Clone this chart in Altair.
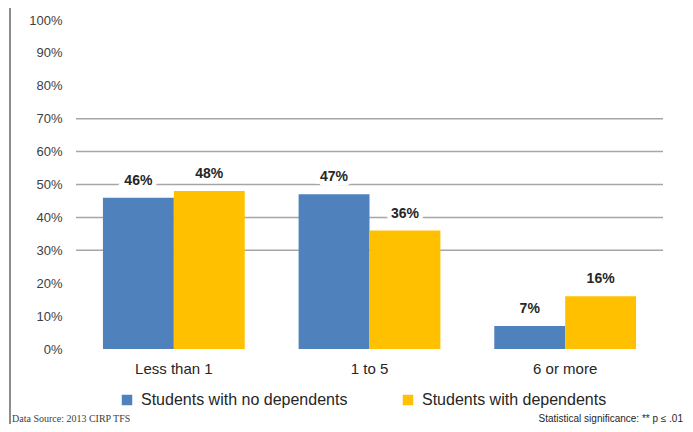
import altair as alt
import pandas as pd

categories = ["Less than 1", "1 to 5", "6 or more"]
series = ["Students with no dependents", "Students with dependents"]
no_dependents = [46, 47, 7]
with_dependents = [48, 36, 16]
y_ticks = [0, 10, 20, 30, 40, 50, 60, 70, 80, 90, 100]
grid_values = [30, 40, 50, 60, 70]
colors = ["#4F81BD", "#FFC000"]

rows = []
for c, a, b in zip(categories, no_dependents, with_dependents):
    rows.append({"cat": c, "series": series[0], "value": a, "label": f"{a}%"})
    rows.append({"cat": c, "series": series[1], "value": b, "label": f"{b}%"})
df = pd.DataFrame(rows)
grid_df = pd.DataFrame({"g": grid_values})
one = pd.DataFrame({"k": [0]})

FONT = "Liberation Sans"

yscale = alt.Scale(domain=[0, 100], nice=False)
yaxis = alt.Axis(values=y_ticks, grid=False, domain=False, ticks=False,
                 labelOverlap=False, tickCount=11,
                 labelPadding=14, labelFontSize=13, labelColor="#404040",
                 labelFont=FONT, labelExpr="datum.value + '%'")

xenc = alt.X("cat:N", sort=categories, title=None,
             scale=alt.Scale(paddingInner=0, paddingOuter=0),
             axis=alt.Axis(labelAngle=0, domain=False, ticks=False, labelPadding=12,
                           labelFontSize=15, labelColor="#262626", labelFont=FONT,
                           labelBaseline="top"))
yenc = alt.Y("value:Q", title=None, scale=yscale, axis=yaxis)
xoff = alt.XOffset("series:N", sort=series,
                   scale=alt.Scale(paddingInner=0, paddingOuter=0.38))

grid = alt.Chart(grid_df).mark_rule(color="#A6A6A6", strokeWidth=1.5).encode(
    y=alt.Y("g:Q", title=None, scale=yscale, axis=yaxis)
)

bars = alt.Chart(df).mark_bar().encode(
    x=xenc, y=yenc, xOffset=xoff,
    color=alt.Color("series:N", sort=series, title=None,
                    scale=alt.Scale(domain=series, range=colors),
                    legend=alt.Legend(orient="none", direction="horizontal",
                                      legendX=43, legendY=372,
                                      symbolType="square", symbolSize=110,
                                      symbolStrokeWidth=0, labelFontSize=16,
                                      labelFont=FONT, labelColor="#262626",
                                      columnPadding=52, labelOffset=6,
                                      labelLimit=400)),
)

halo = alt.Chart(df).mark_text(
    fontSize=14, fontWeight="bold", font=FONT, dy=-17,
    fill="white", stroke="white", strokeWidth=9, baseline="middle"
).encode(x=alt.X("cat:N", sort=categories, title=None), y=yenc,
         xOffset=xoff, text="label:N")

labels = alt.Chart(df).mark_text(
    fontSize=14, fontWeight="bold", font=FONT, dy=-17, color="#262626",
    baseline="middle"
).encode(x=alt.X("cat:N", sort=categories, title=None), y=yenc,
         xOffset=xoff, text="label:N")

border = alt.Chart(one).mark_rule(color="#8C8C8C", strokeWidth=2).encode(
    x=alt.value(-66), y=alt.value(-12), y2=alt.value(404)
)

source = alt.Chart(one).mark_text(
    text="Data Source: 2013 CIRP TFS", align="left", baseline="middle",
    font="Liberation Serif", fontSize=10, color="#404040"
).encode(x=alt.value(-64), y=alt.value(399))

signif = alt.Chart(one).mark_text(
    text="Statistical significance: ** p ≤ .01", align="right", baseline="middle",
    font=FONT, fontSize=10, color="#262626"
).encode(x=alt.value(607), y=alt.value(399))

chart = alt.layer(grid, bars, halo, labels, border, source, signif).properties(
    width=587, height=329,
    autosize=alt.AutoSizeParams(type="none"),
    padding={"left": 68, "top": 12, "right": 22, "bottom": 75},
).configure(background="white").configure_view(stroke=None)

chart.save("out.html", embed_options={"renderer": "svg", "actions": False})
